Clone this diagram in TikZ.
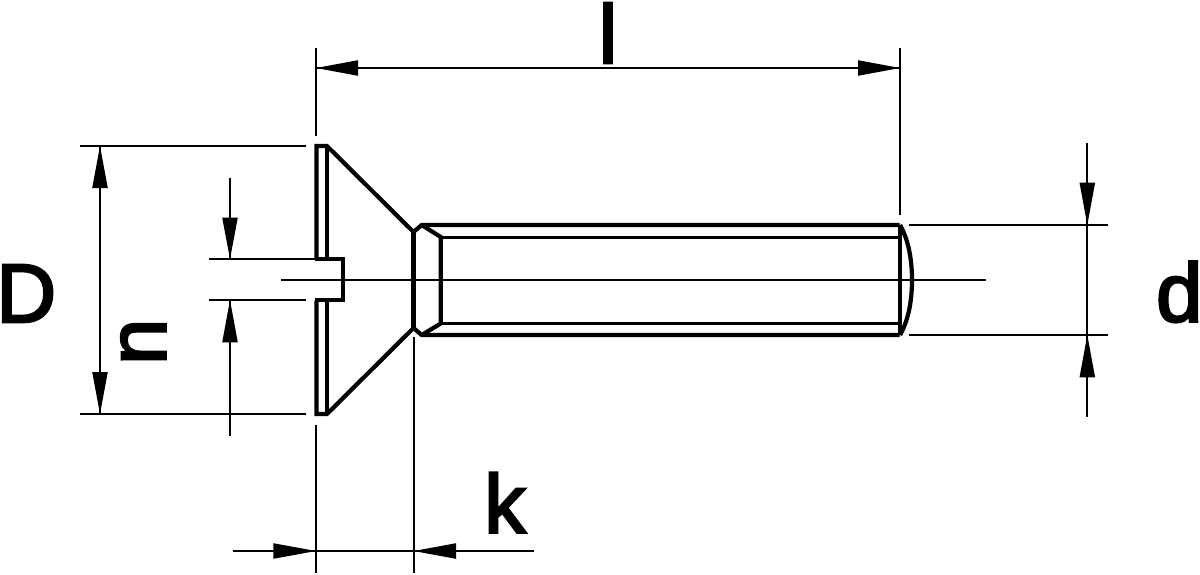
\documentclass[tikz,border=0pt]{standalone}
\usepackage{fontspec}
\newfontfamily\lblfont[FakeBold=3]{Liberation Sans}
\tikzset{
  x=1pt,y=-1pt,
  thick part/.style={line width=4.2pt,line join=miter,miter limit=3},
  thread part/.style={line width=3pt},
  thin part/.style={line width=2pt},
  dimhead/.style={fill=black,draw=none},
  lbl/.style={font=\fontsize{83}{83}\lblfont,inner sep=0pt,text=black}
}
\newcommand{\headV}[3]{\fill[dimhead] (#1,#2) -- (#1-7.8,#3) -- (#1+7.8,#3) -- cycle;}
\newcommand{\headH}[3]{\fill[dimhead] (#2,#1) -- (#3,#1-7.8) -- (#3,#1+7.8) -- cycle;}
\begin{document}
\begin{tikzpicture}
\useasboundingbox (0,0) rectangle (1200,574);
% screw outline
\draw[thick part] (316.5,259) -- (316.5,146) -- (327,146) -- (413.5,232) -- (421.7,225) -- (899.5,225);
\draw[thick part] (316.5,300.5) -- (316.5,414) -- (327,414) -- (413.5,328) -- (421.7,335) -- (899.5,335);
\draw[thick part] (327,146) -- (327,259);
\draw[thick part] (327,300.5) -- (327,414);
\draw[thick part] (315,259) -- (342.7,259) -- (342.7,300) -- (315,300);
\draw[thick part] (413.5,232) -- (413.5,328);
\draw[thick part] (421.7,225) -- (440.7,237) -- (440.7,323.5) -- (421.7,335);
\draw[thread part] (440.7,237) -- (899.5,237);
\draw[thread part] (440.7,323.5) -- (899.5,323.5);
\draw[thick part] (900,225) -- (900,335);
\draw[thick part] (900,225) .. controls (908,239) and (912,258) .. (912,280) .. controls (912,302) and (908,321) .. (900,335);
% centre line
\draw[thin part] (280.7,280.3) -- (986,280.3);
% l
\draw[thin part] (316,48) -- (316,136);
\draw[thin part] (900,48) -- (900,215);
\draw[thin part] (316,68) -- (900,68);
\headH{68}{316}{358} \headH{68}{900}{858}
% D
\draw[thin part] (80,146) -- (306,146);
\draw[thin part] (80,414) -- (306,414);
\draw[thin part] (100,146) -- (100,414);
\headV{100}{146}{188} \headV{100}{414}{372}
% n
\draw[thin part] (209,259) -- (316,259);
\draw[thin part] (209,300) -- (306,300);
\draw[thin part] (230,177.7) -- (230,259);
\draw[thin part] (230,300) -- (230,436);
\headV{230}{259}{217.7} \headV{230}{300}{342.3}
% k
\draw[thin part] (316,425) -- (316,573);
\draw[thin part] (413.7,337) -- (413.7,573);
\draw[thin part] (232.7,551) -- (534,551);
\headH{551}{316}{273.3} \headH{551}{413.7}{456}
% d
\draw[thin part] (909,225) -- (1108,225);
\draw[thin part] (909,335) -- (1108,335);
\draw[thin part] (1087.3,142.7) -- (1087.3,417.3);
\headV{1087.3}{225}{182.7} \headV{1087.3}{335}{377.3}
% labels
\node[lbl,anchor=base] (labl) at (608,63) {l};
\node[lbl,anchor=base west] (labD) at (0,322) {\kern-4pt D\kern-2pt};
\node[lbl,rotate=90,anchor=base west] (labn) at (165.7,365) {n};
\node[lbl,anchor=base west] (labk) at (484,532.7) {k};
\node[lbl,anchor=base west] (labd) at (1156,321.5) {d\kern-6pt};
\end{tikzpicture}
\end{document}
